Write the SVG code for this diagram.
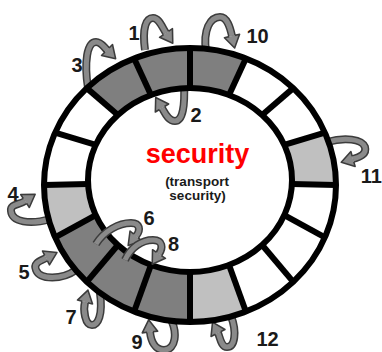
<svg xmlns="http://www.w3.org/2000/svg" width="382" height="352" viewBox="0 0 382 352">
<style>
.dk{fill:#7f7f7f}.lt{fill:#c0c0c0}.wh{fill:#ffffff}
.edge{fill:none;stroke:#000;stroke-width:6}
.div{stroke:#000;stroke-width:6}
.ro{fill:none;stroke:#3c3c3c;stroke-width:8}
.ri{fill:none;stroke:#8a8a8a;stroke-width:5;marker-end:url(#ah)}
.num{font-family:"Liberation Sans",Arial,sans-serif;font-weight:bold;font-size:20px;fill:#1a1a1a;text-anchor:middle}
</style>
<defs>
<marker id="ah" markerUnits="userSpaceOnUse" markerWidth="20" markerHeight="20" viewBox="-2 -9 14 18" refX="0" refY="0" orient="auto" overflow="visible">
<path d="M0,-7 L11,0 L0,7 Z" fill="#8a8a8a"/>
<path d="M0,-2.6 L0,-7 L11,0 L0,7 L0,2.6" fill="none" stroke="#3c3c3c" stroke-width="1.4" stroke-linejoin="round"/>
</marker>
</defs>
<rect width="382" height="352" fill="#fff"/>
<g id="rotations-back">
<g id="arrow-1"><path class="ro" d="M145,50 C142,28 146,18 153,18 C159,18 162,27 166,33"/><path class="ri" d="M145,50 C142,28 146,18 153,18 C159,18 162,27 166,33"/><text class="num" x="134" y="40">1</text></g>
<g id="arrow-2"><path class="ro" d="M184,84 C185,105 183,121 175,121 C168,121 165,113 162,108"/><path class="ri" d="M184,84 C185,105 183,121 175,121 C168,121 165,113 162,108"/><text class="num" x="196" y="122">2</text></g>
<g id="arrow-3"><path class="ro" d="M88,88 C84,62 87,42 96,42 C101,42 103,46 107,50"/><path class="ri" d="M88,88 C84,62 87,42 96,42 C101,42 103,46 107,50"/><text class="num" x="77" y="72">3</text></g>
<g id="arrow-10"><path class="ro" d="M206,51 C203,30 210,17 220,17 C227,17 230,27 232,36"/><path class="ri" d="M206,51 C203,30 210,17 220,17 C227,17 230,27 232,36"/><text class="num" x="257.5" y="43">10</text></g>
<g id="arrow-11"><path class="ro" d="M327,142 C345,137 362,139 365,147 C367,154 360,157 353,159"/><path class="ri" d="M327,142 C345,137 362,139 365,147 C367,154 360,157 353,159"/><text class="num" x="382" y="183" style="text-anchor:end">11</text></g>
<g id="arrow-4"><path class="ro" d="M50,219 C30,225 12,222 11,211 C10,204 19,205 25,201"/><path class="ri" d="M50,219 C30,225 12,222 11,211 C10,204 19,205 25,201"/><text class="num" x="13" y="201">4</text></g>
<g id="arrow-5"><path class="ro" d="M76,270 C62,280 40,280 36,270 C33,263 40,261 46,258"/><path class="ri" d="M76,270 C62,280 40,280 36,270 C33,263 40,261 46,258"/><text class="num" x="24" y="279">5</text></g>
<g id="arrow-7"><path class="ro" d="M100,293 C103,315 98,325 92,325 C85,325 83,310 85,302"/><path class="ri" d="M100,293 C103,315 98,325 92,325 C85,325 83,310 85,302"/><text class="num" x="71" y="324">7</text></g>
<g id="arrow-9"><path class="ro" d="M170,318 C178,332 176,350 164,350 C155,350 151,341 150,332"/><path class="ri" d="M170,318 C178,332 176,350 164,350 C155,350 151,341 150,332"/><text class="num" x="137" y="349">9</text></g>
<g id="arrow-12"><path class="ro" d="M231,316 C237,332 235,347 227,347 C221,347 220,337 218,333"/><path class="ri" d="M231,316 C237,332 235,347 227,347 C221,347 220,337 218,333"/><text class="num" x="267.5" y="346">12</text></g>
</g>
<g id="ring">
<path id="seg-0" class="lt" d="M336,185 A146,137 0 0 0 324.89,132.57 L284.24,144.79 A102,92 0 0 1 291.9,184 Z"/>
<path id="seg-1" class="wh" d="M324.89,132.57 A146,137 0 0 0 293.24,88.13 L262.12,114.95 A102,92 0 0 1 284.24,144.79 Z"/>
<path id="seg-2" class="wh" d="M293.24,88.13 A146,137 0 0 0 245.87,58.43 L229.03,95 A102,92 0 0 1 262.12,114.95 Z"/>
<path id="seg-3" class="dk" d="M245.87,58.43 A146,137 0 0 0 190,48 L190,88 A102,92 0 0 1 229.03,95 Z"/>
<path id="seg-4" class="dk" d="M190,48 A146,137 0 0 0 134.13,58.43 L150.97,95 A102,92 0 0 1 190,88 Z"/>
<path id="seg-5" class="dk" d="M134.13,58.43 A146,137 0 0 0 86.76,88.13 L117.88,114.95 A102,92 0 0 1 150.97,95 Z"/>
<path id="seg-6" class="wh" d="M86.76,88.13 A146,137 0 0 0 55.11,132.57 L95.76,144.79 A102,92 0 0 1 117.88,114.95 Z"/>
<path id="seg-7" class="wh" d="M55.11,132.57 A146,137 0 0 0 44,185 L88.1,184 A102,92 0 0 1 95.76,144.79 Z"/>
<path id="seg-8" class="lt" d="M44,185 A146,137 0 0 0 55.11,237.43 L95.76,215.21 A102,92 0 0 1 88.1,184 Z"/>
<path id="seg-9" class="dk" d="M55.11,237.43 A146,137 0 0 0 86.76,281.87 L117.88,245.05 A102,92 0 0 1 95.76,215.21 Z"/>
<path id="seg-10" class="dk" d="M86.76,281.87 A146,137 0 0 0 134.13,311.57 L150.97,265 A102,92 0 0 1 117.88,245.05 Z"/>
<path id="seg-11" class="dk" d="M134.13,311.57 A146,137 0 0 0 190,322 L190,272 A102,92 0 0 1 150.97,265 Z"/>
<path id="seg-12" class="lt" d="M190,322 A146,137 0 0 0 245.87,311.57 L229.03,265 A102,92 0 0 1 190,272 Z"/>
<path id="seg-13" class="wh" d="M245.87,311.57 A146,137 0 0 0 293.24,281.87 L262.12,245.05 A102,92 0 0 1 229.03,265 Z"/>
<path id="seg-14" class="wh" d="M293.24,281.87 A146,137 0 0 0 324.89,237.43 L284.24,215.21 A102,92 0 0 1 262.12,245.05 Z"/>
<path id="seg-15" class="wh" d="M324.89,237.43 A146,137 0 0 0 336,185 L291.9,184 A102,92 0 0 1 284.24,215.21 Z"/>
<ellipse class="edge" cx="190" cy="185" rx="146" ry="137"/>
<ellipse class="edge" cx="190" cy="180" rx="102" ry="92"/>
<g class="div">
<line x1="336" y1="185" x2="291.9" y2="184"/>
<line x1="324.89" y1="132.57" x2="284.24" y2="144.79"/>
<line x1="293.24" y1="88.13" x2="262.12" y2="114.95"/>
<line x1="245.87" y1="58.43" x2="229.03" y2="95"/>
<line x1="190" y1="48" x2="190" y2="88"/>
<line x1="134.13" y1="58.43" x2="150.97" y2="95"/>
<line x1="86.76" y1="88.13" x2="117.88" y2="114.95"/>
<line x1="55.11" y1="132.57" x2="95.76" y2="144.79"/>
<line x1="44" y1="185" x2="88.1" y2="184"/>
<line x1="55.11" y1="237.43" x2="95.76" y2="215.21"/>
<line x1="86.76" y1="281.87" x2="117.88" y2="245.05"/>
<line x1="134.13" y1="311.57" x2="150.97" y2="265"/>
<line x1="190" y1="322" x2="190" y2="272"/>
<line x1="245.87" y1="311.57" x2="229.03" y2="265"/>
<line x1="293.24" y1="281.87" x2="262.12" y2="245.05"/>
<line x1="324.89" y1="237.43" x2="284.24" y2="215.21"/>
</g>
</g>
<g id="rotations-front">
<g id="arrow-6"><path class="ro" d="M96,244 C104,231 119,223 131,223 C140,223 141,230 136,236"/><path class="ri" d="M96,244 C104,231 119,223 131,223 C140,223 141,230 136,236"/><text class="num" x="149" y="225">6</text></g>
<g id="arrow-8"><path class="ro" d="M125,260 C131,247 142,240 153,240 C163,240 163,248 159,254"/><path class="ri" d="M125,260 C131,247 142,240 153,240 C163,240 163,248 159,254"/><text class="num" x="173.5" y="251">8</text></g>
</g>
<g id="title">
<text x="197.5" y="163" style="font-family:'Liberation Sans',Arial,sans-serif;font-weight:bold;font-size:27px;fill:#ff0000;text-anchor:middle">security</text>
<text x="197" y="186" style="font-family:'Liberation Sans',Arial,sans-serif;font-weight:bold;font-size:13.5px;fill:#1a1a1a;text-anchor:middle">(transport</text>
<text x="197.5" y="199.5" style="font-family:'Liberation Sans',Arial,sans-serif;font-weight:bold;font-size:13.5px;fill:#1a1a1a;text-anchor:middle">security)</text>
</g>
</svg>
